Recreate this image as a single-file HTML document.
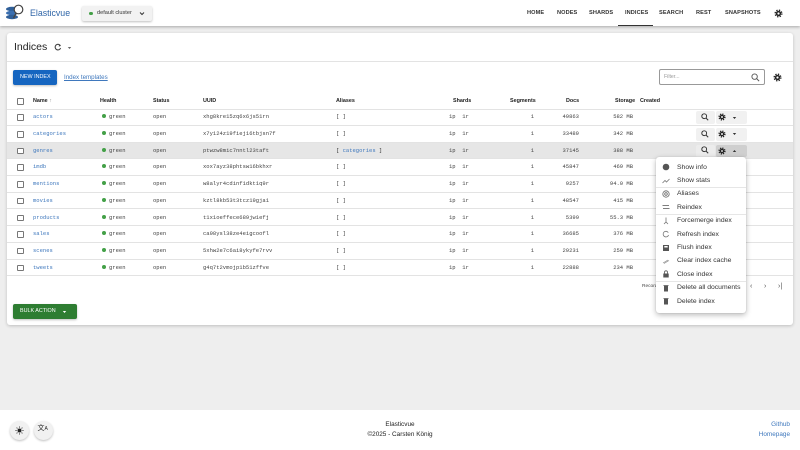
<!DOCTYPE html>
<html><head><meta charset="utf-8">
<style>
*{margin:0;padding:0;box-sizing:border-box}
html,body{width:800px;height:450px;overflow:hidden;background:#eeeeee;font-family:"Liberation Sans",sans-serif;color:#222}
.a{position:absolute;white-space:nowrap}
.hdr{position:absolute;left:0;top:0;width:800px;height:26px;background:#fff;box-shadow:0 1px 3px rgba(0,0,0,.3)}
.nav{position:absolute;top:0;height:26px;line-height:26px;font-size:5.6px;font-weight:bold;color:#333;letter-spacing:.1px}
.card{position:absolute;left:7px;top:33px;width:786px;height:292px;background:#fff;border-radius:3px;box-shadow:0 1px 3px rgba(0,0,0,.2)}
.th{position:absolute;top:93px;height:16px;line-height:16px;font-size:5.4px;font-weight:bold;color:#222}
.row{position:absolute;left:7px;width:786px;height:16.7px;border-bottom:0.8px solid #e3e3e3}
.c{position:absolute;top:0;height:16.7px;line-height:16.7px;font-family:"Liberation Mono",monospace;font-size:5.5px;color:#444;white-space:nowrap}
.cb{position:absolute;left:10px;top:5px;width:6.5px;height:6.5px;border:0.7px solid #777;border-radius:1px;background:#fff}
.lnk{color:#3f78bd}
.dot{display:inline-block;width:4px;height:4px;border-radius:50%;background:#43a047;margin-right:3px;vertical-align:0px}
.btn{position:absolute;top:2px;height:12.5px;background:#f1f1f1;border-radius:2px}
.menu{position:absolute;left:656px;top:157.3px;width:90px;height:155.5px;background:#fff;border-radius:3px;box-shadow:0 2px 6px rgba(0,0,0,.28),0 0 1px rgba(0,0,0,.2)}
.mi{position:absolute;left:21px;height:13.4px;line-height:13.4px;font-size:6.8px;color:#333}
.ic{position:absolute;left:6px;width:8px;height:8px}
.md{position:absolute;left:0;width:90px;height:0.8px;background:#e6e6e6}
</style></head><body>

<!-- header -->
<div class="hdr">
  <svg class="a" style="left:5px;top:3px" width="20" height="19" viewBox="0 0 20 19">
    <ellipse cx="7" cy="6" rx="6" ry="2.2" fill="#2f5f99"/>
    <ellipse cx="7" cy="10" rx="6" ry="2.2" fill="#3a6fb0"/>
    <ellipse cx="7" cy="14" rx="6" ry="2.2" fill="#2f5f99"/>
    <circle cx="13.5" cy="6.5" r="4.3" fill="#fff" stroke="#444" stroke-width="1.2"/>
    <line x1="11.2" y1="10" x2="8.5" y2="15" stroke="#444" stroke-width="1.4"/>
  </svg>
  <div class="a" style="left:30px;top:0;line-height:26px;font-size:8.8px;color:#3066a8">Elasticvue</div>
  <div class="a" style="left:82px;top:5.7px;width:70px;height:15px;background:#f2f2f2;border-radius:2px;box-shadow:0 1px 2px rgba(0,0,0,.25)"></div>
  <div class="a" style="left:89px;top:11.5px;width:3.5px;height:3.5px;border-radius:50%;background:#43a047"></div>
  <div class="a" style="left:97px;top:5.7px;line-height:15px;font-size:5.6px;color:#333">default cluster</div>
  <svg class="a" style="left:139px;top:10.5px" width="6" height="5" viewBox="0 0 6 5"><path d="M1 1.5 L3 3.5 L5 1.5" fill="none" stroke="#333" stroke-width="1"/></svg>

  <div class="nav" style="left:527px">HOME</div>
  <div class="nav" style="left:557px">NODES</div>
  <div class="nav" style="left:589px">SHARDS</div>
  <div class="nav" style="left:625px">INDICES</div>
  <div class="nav" style="left:659px">SEARCH</div>
  <div class="nav" style="left:696px">REST</div>
  <div class="nav" style="left:725px">SNAPSHOTS</div>
  <div class="a" style="left:618px;top:25px;width:35px;height:1.2px;background:#333"></div>
  <svg class="a" style="left:774px;top:9px" width="9" height="9" viewBox="0 0 24 24"><circle cx="12" cy="12" r="7" fill="#222"/><circle cx="12" cy="12" r="8.6" fill="none" stroke="#222" stroke-width="4.2" stroke-dasharray="3.4 3.35"/><circle cx="12" cy="12" r="3" fill="#fff"/></svg>
</div>

<!-- card -->
<div class="card"></div>
<div class="a" style="left:14px;top:40px;line-height:14px;font-size:10.5px;color:#222">Indices</div>
<svg class="a" style="left:54px;top:43px" width="8" height="8" viewBox="0 0 8 8"><path d="M6.3 2.6 A2.8 2.8 0 1 0 6.6 5" fill="none" stroke="#444" stroke-width="1.1"/><path d="M5 1.4 L7 2.9 L4.8 3.6 Z" fill="#444"/></svg>
<svg class="a" style="left:67px;top:45.5px" width="5" height="4" viewBox="0 0 5 4"><path d="M0.8 1 L2.5 3 L4.2 1 Z" fill="#666"/></svg>
<div class="a" style="left:7px;top:61px;width:786px;height:0.8px;background:#e3e3e3"></div>

<div class="a" style="left:13.3px;top:70px;width:44px;height:15px;background:#1565c0;border-radius:2px;box-shadow:0 1px 2px rgba(0,0,0,.25);color:#fff;font-size:5.4px;line-height:15px;text-align:center">NEW INDEX</div>
<div class="a lnk" style="left:64px;top:70px;line-height:15px;font-size:6.2px;text-decoration:underline">Index templates</div>

<div class="a" style="left:659px;top:69px;width:106px;height:16px;border:0.8px solid #999;border-radius:2px;background:#fff"></div>
<div class="a" style="left:664px;top:69px;line-height:16px;font-size:5.2px;color:#999">Filter...</div>
<svg class="a" style="left:751px;top:72.5px" width="9" height="9" viewBox="0 0 10 10"><circle cx="4" cy="4" r="3" fill="none" stroke="#555" stroke-width="1"/><line x1="6.2" y1="6.2" x2="9" y2="9" stroke="#555" stroke-width="1.1"/></svg>
<svg class="a" style="left:773px;top:72.5px" width="9" height="9" viewBox="0 0 24 24"><circle cx="12" cy="12" r="7" fill="#222"/><circle cx="12" cy="12" r="8.6" fill="none" stroke="#222" stroke-width="4.2" stroke-dasharray="3.4 3.35"/><circle cx="12" cy="12" r="3" fill="#fff"/></svg>

<!-- table header -->
<div class="a" style="left:17px;top:98px;width:6.5px;height:6.5px;border:0.7px solid #777;border-radius:1px;background:#fff"></div>
<div class="th" style="left:33px">Name <span style="color:#888;font-weight:normal">↑</span></div>
<div class="th" style="left:100px">Health</div>
<div class="th" style="left:153px">Status</div>
<div class="th" style="left:203px">UUID</div>
<div class="th" style="left:336px">Aliases</div>
<div class="th" style="left:453px">Shards</div>
<div class="th" style="left:510px">Segments</div>
<div class="th" style="left:566px">Docs</div>
<div class="th" style="left:615px">Storage</div>
<div class="th" style="left:640px">Created</div>
<div class="a" style="left:7px;top:109.3px;width:786px;height:0.8px;background:#e3e3e3"></div>

<!-- rows -->
<div class="row" style="top:109.3px">
 <div class="cb"></div><div class="c lnk" style="left:26px">actors</div><div class="c" style="left:95px"><span class="dot"></span>green</div><div class="c" style="left:146px">open</div><div class="c" style="left:196px">xhg8kre15zq6x6js51rn</div><div class="c" style="left:329px">[ ]</div><div class="c" style="left:442px">1p&nbsp;&nbsp;1r</div><div class="c" style="left:500px;width:27px;text-align:right">1</div><div class="c" style="left:540px;width:32px;text-align:right">49863</div><div class="c" style="left:596px;width:30px;text-align:right">582 MB</div>
 <div class="btn" style="left:689px;width:19px"></div><div class="btn" style="left:708.5px;width:31px"></div>
</div>
<div class="row" style="top:126px">
 <div class="cb"></div><div class="c lnk" style="left:26px">categories</div><div class="c" style="left:95px"><span class="dot"></span>green</div><div class="c" style="left:146px">open</div><div class="c" style="left:196px">x7y124z19fiej16tbjsn7f</div><div class="c" style="left:329px">[ ]</div><div class="c" style="left:442px">1p&nbsp;&nbsp;1r</div><div class="c" style="left:500px;width:27px;text-align:right">1</div><div class="c" style="left:540px;width:32px;text-align:right">33489</div><div class="c" style="left:596px;width:30px;text-align:right">342 MB</div>
 <div class="btn" style="left:689px;width:19px"></div><div class="btn" style="left:708.5px;width:31px"></div>
</div>
<div class="row" style="top:142.7px;background:#e6e6e6">
 <div class="cb"></div><div class="c lnk" style="left:26px">genres</div><div class="c" style="left:95px"><span class="dot"></span>green</div><div class="c" style="left:146px">open</div><div class="c" style="left:196px">ptwzw8mic7nntl23taft</div><div class="c" style="left:329px;color:#333">[ <span class="lnk">categories</span> ]</div><div class="c" style="left:442px">1p&nbsp;&nbsp;1r</div><div class="c" style="left:500px;width:27px;text-align:right">1</div><div class="c" style="left:540px;width:32px;text-align:right">37145</div><div class="c" style="left:596px;width:30px;text-align:right">388 MB</div>
 <div class="btn" style="left:689px;width:19px;background:#ececec"></div><div class="btn" style="left:708.5px;width:31px;background:#cfcfcf"></div>
</div>
<div class="row" style="top:159.4px">
 <div class="cb"></div><div class="c lnk" style="left:26px">imdb</div><div class="c" style="left:95px"><span class="dot"></span>green</div><div class="c" style="left:146px">open</div><div class="c" style="left:196px">xox7ayz38phtsw16bkhxr</div><div class="c" style="left:329px">[ ]</div><div class="c" style="left:442px">1p&nbsp;&nbsp;1r</div><div class="c" style="left:500px;width:27px;text-align:right">1</div><div class="c" style="left:540px;width:32px;text-align:right">45847</div><div class="c" style="left:596px;width:30px;text-align:right">469 MB</div>
 <div class="btn" style="left:689px;width:19px"></div>
</div>
<div class="row" style="top:176.1px">
 <div class="cb"></div><div class="c lnk" style="left:26px">mentions</div><div class="c" style="left:95px"><span class="dot"></span>green</div><div class="c" style="left:146px">open</div><div class="c" style="left:196px">w8alyr4cdinf1dkt1q9r</div><div class="c" style="left:329px">[ ]</div><div class="c" style="left:442px">1p&nbsp;&nbsp;1r</div><div class="c" style="left:500px;width:27px;text-align:right">1</div><div class="c" style="left:540px;width:32px;text-align:right">9257</div><div class="c" style="left:596px;width:30px;text-align:right">94.0 MB</div>
</div>
<div class="row" style="top:192.8px">
 <div class="cb"></div><div class="c lnk" style="left:26px">movies</div><div class="c" style="left:95px"><span class="dot"></span>green</div><div class="c" style="left:146px">open</div><div class="c" style="left:196px">kztl8kb53t3tcz19gja1</div><div class="c" style="left:329px">[ ]</div><div class="c" style="left:442px">1p&nbsp;&nbsp;1r</div><div class="c" style="left:500px;width:27px;text-align:right">1</div><div class="c" style="left:540px;width:32px;text-align:right">48547</div><div class="c" style="left:596px;width:30px;text-align:right">415 MB</div>
</div>
<div class="row" style="top:209.5px">
 <div class="cb"></div><div class="c lnk" style="left:26px">products</div><div class="c" style="left:95px"><span class="dot"></span>green</div><div class="c" style="left:146px">open</div><div class="c" style="left:196px">t1x1oeffece689jw1efj</div><div class="c" style="left:329px">[ ]</div><div class="c" style="left:442px">1p&nbsp;&nbsp;1r</div><div class="c" style="left:500px;width:27px;text-align:right">1</div><div class="c" style="left:540px;width:32px;text-align:right">5399</div><div class="c" style="left:596px;width:30px;text-align:right">55.3 MB</div>
</div>
<div class="row" style="top:226.2px">
 <div class="cb"></div><div class="c lnk" style="left:26px">sales</div><div class="c" style="left:95px"><span class="dot"></span>green</div><div class="c" style="left:146px">open</div><div class="c" style="left:196px">ca98ysl38ze4eigcoofl</div><div class="c" style="left:329px">[ ]</div><div class="c" style="left:442px">1p&nbsp;&nbsp;1r</div><div class="c" style="left:500px;width:27px;text-align:right">1</div><div class="c" style="left:540px;width:32px;text-align:right">36685</div><div class="c" style="left:596px;width:30px;text-align:right">376 MB</div>
</div>
<div class="row" style="top:242.9px">
 <div class="cb"></div><div class="c lnk" style="left:26px">scenes</div><div class="c" style="left:95px"><span class="dot"></span>green</div><div class="c" style="left:146px">open</div><div class="c" style="left:196px">5xhw2e7c6ai8ykyfe7rvv</div><div class="c" style="left:329px">[ ]</div><div class="c" style="left:442px">1p&nbsp;&nbsp;1r</div><div class="c" style="left:500px;width:27px;text-align:right">1</div><div class="c" style="left:540px;width:32px;text-align:right">29231</div><div class="c" style="left:596px;width:30px;text-align:right">259 MB</div>
</div>
<div class="row" style="top:259.6px">
 <div class="cb"></div><div class="c lnk" style="left:26px">tweets</div><div class="c" style="left:95px"><span class="dot"></span>green</div><div class="c" style="left:146px">open</div><div class="c" style="left:196px">g4q7t2vmojp1b51zffve</div><div class="c" style="left:329px">[ ]</div><div class="c" style="left:442px">1p&nbsp;&nbsp;1r</div><div class="c" style="left:500px;width:27px;text-align:right">1</div><div class="c" style="left:540px;width:32px;text-align:right">22888</div><div class="c" style="left:596px;width:30px;text-align:right">234 MB</div>
</div>

<!-- action icons -->
<svg class="a" style="left:701px;top:113px" width="8" height="8" viewBox="0 0 10 10"><circle cx="4" cy="4" r="3" fill="none" stroke="#333" stroke-width="1.2"/><line x1="6.2" y1="6.2" x2="9" y2="9" stroke="#333" stroke-width="1.3"/></svg>
<svg class="a" style="left:718px;top:113.2px" width="8" height="8" viewBox="0 0 24 24"><circle cx="12" cy="12" r="7" fill="#222"/><circle cx="12" cy="12" r="8.6" fill="none" stroke="#222" stroke-width="4.2" stroke-dasharray="3.4 3.35"/><circle cx="12" cy="12" r="3" fill="#f1f1f1"/></svg>
<svg class="a" style="left:732px;top:115.5px" width="5" height="4" viewBox="0 0 5 4"><path d="M0.8 1 L2.5 3 L4.2 1 Z" fill="#333"/></svg>

<svg class="a" style="left:701px;top:129.7px" width="8" height="8" viewBox="0 0 10 10"><circle cx="4" cy="4" r="3" fill="none" stroke="#333" stroke-width="1.2"/><line x1="6.2" y1="6.2" x2="9" y2="9" stroke="#333" stroke-width="1.3"/></svg>
<svg class="a" style="left:718px;top:129.9px" width="8" height="8" viewBox="0 0 24 24"><circle cx="12" cy="12" r="7" fill="#222"/><circle cx="12" cy="12" r="8.6" fill="none" stroke="#222" stroke-width="4.2" stroke-dasharray="3.4 3.35"/><circle cx="12" cy="12" r="3" fill="#f1f1f1"/></svg>
<svg class="a" style="left:732px;top:132.2px" width="5" height="4" viewBox="0 0 5 4"><path d="M0.8 1 L2.5 3 L4.2 1 Z" fill="#333"/></svg>

<svg class="a" style="left:701px;top:146.4px" width="8" height="8" viewBox="0 0 10 10"><circle cx="4" cy="4" r="3" fill="none" stroke="#333" stroke-width="1.2"/><line x1="6.2" y1="6.2" x2="9" y2="9" stroke="#333" stroke-width="1.3"/></svg>
<svg class="a" style="left:718px;top:146.6px" width="8" height="8" viewBox="0 0 24 24"><circle cx="12" cy="12" r="7" fill="#222"/><circle cx="12" cy="12" r="8.6" fill="none" stroke="#222" stroke-width="4.2" stroke-dasharray="3.4 3.35"/><circle cx="12" cy="12" r="3" fill="#cfcfcf"/></svg>
<svg class="a" style="left:732px;top:148.9px" width="5" height="4" viewBox="0 0 5 4"><path d="M0.8 3 L2.5 1 L4.2 3 Z" fill="#333"/></svg>

<svg class="a" style="left:701px;top:163.1px" width="8" height="8" viewBox="0 0 10 10"><circle cx="4" cy="4" r="3" fill="none" stroke="#333" stroke-width="1.2"/><line x1="6.2" y1="6.2" x2="9" y2="9" stroke="#333" stroke-width="1.3"/></svg>

<!-- pagination -->
<div class="a" style="left:642px;top:283px;line-height:8px;font-size:4.8px;color:#444">Records per page</div>
<div class="a" style="left:750px;top:281px;line-height:12px;font-size:7px;color:#555">&lsaquo;</div>
<div class="a" style="left:764px;top:281px;line-height:12px;font-size:7px;color:#555">&rsaquo;</div>
<div class="a" style="left:778px;top:281px;line-height:12px;font-size:7px;color:#555">&rsaquo;|</div>

<!-- bulk action -->
<div class="a" style="left:13.3px;top:304px;width:63.5px;height:15px;background:#2e7d32;border-radius:2px;box-shadow:0 1px 2px rgba(0,0,0,.25)"></div>
<div class="a" style="left:20px;top:304px;line-height:15px;font-size:5.4px;color:#fff">BULK ACTION</div>
<svg class="a" style="left:62px;top:309.5px" width="5" height="4" viewBox="0 0 5 4"><path d="M0.8 1 L2.5 3 L4.2 1 Z" fill="#fff"/></svg>

<!-- menu -->
<div class="menu">
  <div class="md" style="top:30px"></div>
  <div class="md" style="top:57px"></div>
  <div class="md" style="top:124px"></div>
  <svg class="ic" style="top:6px" viewBox="0 0 8 8"><circle cx="4" cy="4" r="3.3" fill="#555"/></svg>
  <div class="mi" style="top:3.3px">Show info</div>
  <svg class="ic" style="top:19.4px" viewBox="0 0 8 8"><path d="M0.5 6 L3 3.5 L4.5 5 L7.5 2" fill="none" stroke="#777" stroke-width=".8"/></svg>
  <div class="mi" style="top:16.7px">Show stats</div>
  <svg class="ic" style="top:32.8px" viewBox="0 0 8 8"><circle cx="4" cy="4" r="3.2" fill="none" stroke="#666" stroke-width=".8"/><circle cx="4" cy="4" r="1.3" fill="none" stroke="#666" stroke-width=".8"/></svg>
  <div class="mi" style="top:30.1px">Aliases</div>
  <svg class="ic" style="top:46.2px" viewBox="0 0 8 8"><path d="M0.5 2.5 H7 M1 5.5 H7.5" stroke="#555" stroke-width=".8"/></svg>
  <div class="mi" style="top:43.5px">Reindex</div>
  <svg class="ic" style="top:59.6px" viewBox="0 0 8 8"><path d="M4 0.5 V5 M2 7 L4 5 L6 7" fill="none" stroke="#777" stroke-width=".8"/></svg>
  <div class="mi" style="top:56.9px">Forcemerge index</div>
  <svg class="ic" style="top:73px" viewBox="0 0 8 8"><path d="M6.3 2.6 A2.8 2.8 0 1 0 6.6 5" fill="none" stroke="#777" stroke-width=".8"/></svg>
  <div class="mi" style="top:70.3px">Refresh index</div>
  <svg class="ic" style="top:86.4px" viewBox="0 0 8 8"><rect x="1" y="1" width="6" height="6" fill="#555"/><rect x="2.3" y="2" width="3.4" height="1.5" fill="#fff"/></svg>
  <div class="mi" style="top:83.7px">Flush index</div>
  <svg class="ic" style="top:99.8px" viewBox="0 0 8 8"><path d="M1 6 L6 3 M2 6.5 L7 3.5" stroke="#888" stroke-width=".7"/></svg>
  <div class="mi" style="top:97.1px">Clear index cache</div>
  <svg class="ic" style="top:113.2px" viewBox="0 0 8 8"><rect x="1.3" y="3.5" width="5.4" height="4" fill="#555"/><path d="M2.5 3.5 V2.3 A1.5 1.5 0 0 1 5.5 2.3 V3.5" fill="none" stroke="#555" stroke-width=".8"/></svg>
  <div class="mi" style="top:110.5px">Close index</div>
  <svg class="ic" style="top:126.6px" viewBox="0 0 8 8"><rect x="2" y="2" width="4" height="5.5" fill="#555"/><rect x="1.5" y="1" width="5" height="0.8" fill="#555"/></svg>
  <div class="mi" style="top:123.9px">Delete all documents</div>
  <svg class="ic" style="top:140px" viewBox="0 0 8 8"><rect x="2" y="2" width="4" height="5.5" fill="#555"/><rect x="1.5" y="1" width="5" height="0.8" fill="#555"/></svg>
  <div class="mi" style="top:137.3px">Delete index</div>
</div>

<!-- footer -->
<div class="a" style="left:0;top:410px;width:800px;height:40px;background:#fff"></div>
<div class="a" style="left:9.5px;top:420.5px;width:19px;height:19px;border-radius:50%;background:#f1f1f1;box-shadow:0 1px 2px rgba(0,0,0,.25)"></div>
<div class="a" style="left:33.5px;top:420.5px;width:19px;height:19px;border-radius:50%;background:#f1f1f1;box-shadow:0 1px 2px rgba(0,0,0,.25)"></div>
<svg class="a" style="left:14.5px;top:425.5px" width="9" height="9" viewBox="0 0 10 10"><circle cx="5" cy="5" r="2.2" fill="#222"/><g stroke="#222" stroke-width=".9"><line x1="5" y1="0.5" x2="5" y2="1.8"/><line x1="5" y1="8.2" x2="5" y2="9.5"/><line x1="0.5" y1="5" x2="1.8" y2="5"/><line x1="8.2" y1="5" x2="9.5" y2="5"/><line x1="1.8" y1="1.8" x2="2.7" y2="2.7"/><line x1="7.3" y1="7.3" x2="8.2" y2="8.2"/><line x1="1.8" y1="8.2" x2="2.7" y2="7.3"/><line x1="7.3" y1="2.7" x2="8.2" y2="1.8"/></g></svg>
<div class="a" style="left:37.5px;top:424px;line-height:10px;font-size:7px;color:#222;font-family:'Liberation Sans','Noto Sans CJK SC',sans-serif">文<span style="font-size:5px">A</span></div>
<div class="a" style="left:350px;top:419.5px;width:100px;text-align:center;line-height:10px;font-size:6.4px;color:#222">Elasticvue</div>
<div class="a" style="left:350px;top:430px;width:100px;text-align:center;line-height:10px;font-size:6.4px;color:#222">©2025 - Carsten König</div>
<div class="a lnk" style="left:700px;top:419.5px;width:90px;text-align:right;line-height:10px;font-size:6.4px">Github</div>
<div class="a lnk" style="left:700px;top:430px;width:90px;text-align:right;line-height:10px;font-size:6.4px">Homepage</div>

</body></html>
